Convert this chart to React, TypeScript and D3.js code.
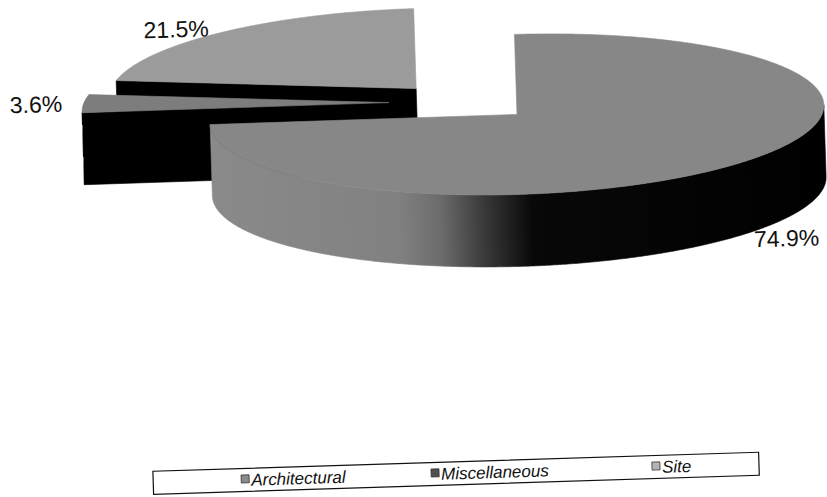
import React from 'react';
import * as d3 from 'd3';

// ---- data ----
const categories: string[] = ['Architectural', 'Miscellaneous', 'Site'];
const values: number[] = [74.9, 3.6, 21.5];
const valueLabels: string[] = ['74.9%', '3.6%', '21.5%'];

// ---- styles / layout ----
const topColors = ['#878787', '#7d7d7d', '#9b9b9b'];
const legendColors = ['#8a8a8a', '#505050', '#b4b4b4'];
const CUT_COLOR = '#000';
const W = 827;
const H = 497;
const GEO = { cx: 468, cy: 104, rx: 307, ry: 80, depth: 72, explode: 0.244 };
const ROT = { angle: -1.8, cx: 413, cy: 248 };
const LABEL_R = 1.07;
const LEGEND_BOX = { x: 146, y: 463, w: 606, h: 23 };
const LEGEND_ITEM_X = [234, 424, 645];
const FONT = "'Liberation Sans', Arial, Helvetica, sans-serif";

type P = [number, number];

function pt(a: number, ox: number, oy: number, z: number, r = 1): P {
  return [ox + r * GEO.rx * Math.sin(a), oy - r * GEO.ry * Math.cos(a) + z];
}

function arcPts(a0: number, a1: number, ox: number, oy: number, z: number): P[] {
  const n = Math.max(2, Math.ceil(Math.abs(a1 - a0) / (Math.PI / 360)));
  return d3.range(n + 1).map((i) => pt(a0 + ((a1 - a0) * i) / n, ox, oy, z));
}

const line = d3.line<P>().x((d) => d[0]).y((d) => d[1]);

export default function App() {
  const arcs = d3
    .pie<number>()
    .sort(null)
    .startAngle(0)
    .endAngle(2 * Math.PI)(values);

  const slices = arcs.map((a, i) => {
    const s = a.startAngle;
    const e = a.endAngle;
    const mid = (s + e) / 2;
    const ox = GEO.cx + GEO.explode * GEO.rx * Math.sin(mid);
    const oy = GEO.cy - GEO.explode * GEO.ry * Math.cos(mid);
    const D = GEO.depth;
    const center: P = [ox, oy];
    const centerB: P = [ox, oy + D];

    const top = line([center, ...arcPts(s, e, ox, oy, 0)])! + 'Z';

    const cuts: string[] = [];
    if (Math.sin(s) < -1e-6) {
      const r0 = pt(s, ox, oy, 0);
      const r1 = pt(s, ox, oy, D);
      cuts.push(line([center, r0, r1, centerB])! + 'Z');
    }
    if (Math.sin(e) > 1e-6) {
      const r0 = pt(e, ox, oy, 0);
      const r1 = pt(e, ox, oy, D);
      cuts.push(line([center, r0, r1, centerB])! + 'Z');
    }

    let side: string | null = null;
    const a0 = Math.max(s, Math.PI / 2);
    const a1 = Math.min(e, (3 * Math.PI) / 2);
    if (a1 > a0) {
      const upper = arcPts(a0, a1, ox, oy, 0);
      const lower = arcPts(a1, a0, ox, oy, D);
      side = line([...upper, ...lower])! + 'Z';
    }

    const front = Math.cos(mid) < 0;
    const lp = pt(mid, ox, oy, front ? D : 0, LABEL_R);
    const anchor = Math.sin(mid) < 0 ? 'end' : 'start';

    return { i, ox, oy, top, cuts, side, lp, anchor };
  });

  const order = [...slices].sort((a, b) => a.oy - b.oy);

  return (
    <svg
      width={W}
      height={H}
      viewBox={`0 0 ${W} ${H}`}
      style={{ position: 'absolute', left: 0, top: 0, background: '#fff' }}
    >
      <defs>
        <linearGradient id="sideGrad" x1="0" y1="0" x2="1" y2="0">
          <stop offset="0" stopColor="#8a8a8a" />
          <stop offset="0.3" stopColor="#818181" />
          <stop offset="0.37" stopColor="#6c6c6c" />
          <stop offset="0.44" stopColor="#3a3a3a" />
          <stop offset="0.52" stopColor="#080808" />
          <stop offset="1" stopColor="#000" />
        </linearGradient>
      </defs>
      <rect x={0} y={0} width={W} height={H} fill="#fff" />
      <g transform={`rotate(${ROT.angle}, ${ROT.cx}, ${ROT.cy})`}>
        {order.map((sl) => (
          <g key={categories[sl.i]}>
            {sl.cuts.map((c, k) => (
              <path key={k} d={c} fill={CUT_COLOR} stroke={CUT_COLOR} strokeWidth={0.6} />
            ))}
            {sl.side && <path d={sl.side} fill="url(#sideGrad)" stroke="url(#sideGrad)" strokeWidth={0.6} />}
            <path d={sl.top} fill={topColors[sl.i]} stroke={topColors[sl.i]} strokeWidth={0.6} />
          </g>
        ))}
        {slices.map((sl) => (
          <text
            key={'lab' + sl.i}
            x={sl.lp[0]}
            y={sl.lp[1]}
            textAnchor={sl.anchor}
            dominantBaseline="central"
            fontFamily={FONT}
            fontSize={23}
            fill="#111"
          >
            {valueLabels[sl.i]}
          </text>
        ))}
        <rect
          x={LEGEND_BOX.x}
          y={LEGEND_BOX.y}
          width={LEGEND_BOX.w}
          height={LEGEND_BOX.h}
          fill="#fff"
          stroke="#111"
          strokeWidth={1.2}
        />
        {categories.map((c, i) => (
          <g key={'leg' + c}>
            <rect
              x={LEGEND_ITEM_X[i]}
              y={469.5}
              width={8}
              height={8}
              fill={legendColors[i]}
              stroke="#333"
              strokeWidth={0.8}
            />
            <text
              x={LEGEND_ITEM_X[i] + 10}
              y={480.5}
              fontFamily={FONT}
              fontStyle="italic"
              fontSize={17}
              fill="#111"
            >
              {c}
            </text>
          </g>
        ))}
      </g>
    </svg>
  );
}
